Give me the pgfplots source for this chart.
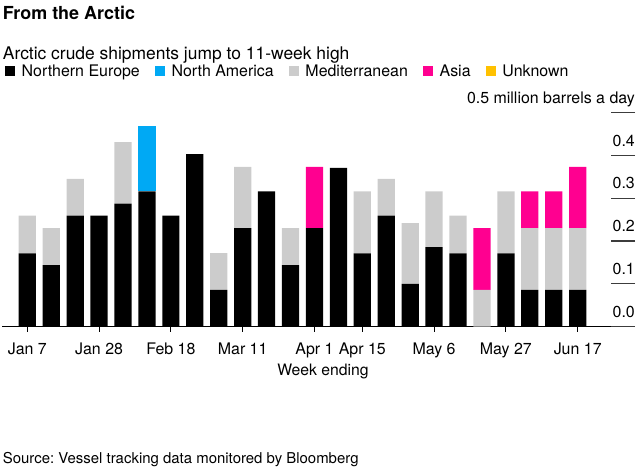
\documentclass[border=0pt]{standalone}
\usepackage{fontspec}
\setmainfont{TeX Gyre Heros}
\usepackage{pgfplots}
\usepackage{pgfplotstable}
\pgfplotsset{compat=1.18}
\definecolor{cblue}{RGB}{0,169,244}
\definecolor{cpink}{RGB}{255,0,144}
\definecolor{cgray}{RGB}{204,204,204}
\definecolor{cyellow}{RGB}{255,193,0}
\definecolor{tickgray}{RGB}{60,60,60}
\pgfplotsset{sq/.style={legend image code/.code={\fill[##1,draw=none] (0bp,-5bp) rectangle (10bp,5bp);}}}
\frenchspacing
\begin{document}
\pgfplotstableread{
x ne na med asia
1 0.171 0 0.088 0
2 0.144 0 0.086 0
3 0.259 0 0.086 0
4 0.259 0 0 0
5 0.287 0 0.144 0
6 0.316 0.153 0 0
7 0.259 0 0 0
8 0.403 0 0 0
9 0.086 0 0.086 0
10 0.230 0 0.143 0
11 0.316 0 0 0
12 0.144 0 0.086 0
13 0.230 0 0 0.143
14 0.371 0 0 0
15 0.171 0 0.145 0
16 0.259 0 0.086 0
17 0.100 0 0.142 0
18 0.186 0 0.130 0
19 0.171 0 0.088 0
20 0 0 0.086 0.144
21 0.171 0 0.145 0
22 0.086 0 0.144 0.086
23 0.086 0 0.144 0.086
24 0.086 0 0.144 0.143
}\data
\begin{tikzpicture}
\useasboundingbox (0,0) rectangle (640bp,469bp);
\begin{axis}[
  at={(2bp,142.3bp)}, anchor=south west,
  scale only axis, width=633bp, height=214.2bp,
  xmin=-0.057, xmax=26.395, ymin=0, ymax=0.5,
  ybar stacked, bar width=0.72,
  axis x line=bottom, axis y line=none,
  x axis line style={-, black, line width=1.5bp},
  tick align=outside, major tick length=5bp,
  xtick={1,4,7,10,13,15,18,21,24},
  xticklabels={Jan 7,Jan 28,Feb 18,Mar 11,Apr 1,Apr 15,May 6,May 27,Jun 17},
  xtick style={black, line width=1bp},
  xticklabel style={font=\fontsize{16}{19}\selectfont, inner sep=0pt, anchor=base, yshift=-23.3bp},
  every axis plot post/.append style={sq},
  legend columns=-1,
  legend style={at={(axis description cs:0.0047,1.1937)}, anchor=west, draw=none, fill=none, inner sep=0pt, outer sep=0pt,
    font=\fontsize{16}{19}\selectfont,
    nodes={inner sep=0pt},
    /tikz/every odd column/.append style={column sep=6.7bp},
    /tikz/every even column/.append style={column sep=15bp}},
]
\addplot[fill=black, draw=none] table[x=x,y=ne]{\data};
\addlegendentry{Northern Europe}
\addplot[fill=cblue, draw=none] table[x=x,y=na]{\data};
\addlegendentry{North America}
\addplot[fill=cgray, draw=none] table[x=x,y=med]{\data};
\addlegendentry{Mediterranean}
\addplot[fill=cpink, draw=none] table[x=x,y=asia]{\data};
\addlegendentry{Asia}
\addlegendimage{fill=cyellow, sq}
\addlegendentry{Unknown}
\end{axis}
\begin{axis}[
  at={(2bp,142.3bp)}, anchor=south west,
  scale only axis, width=633bp, height=214.2bp,
  xmin=-0.057, xmax=26.395, ymin=0, ymax=0.5,
  axis x line=none, axis y line=right,
  y axis line style={draw=none},
  tick align=inside, major tick length=24bp,
  ytick={0,0.1,0.2,0.3,0.4,0.5},
  yticklabels={0.0,0.1,0.2,0.3,0.4,0.5 million barrels a day},
  ytick style={tickgray, line width=1.2bp},
  yticklabel style={font=\fontsize{16}{19}\selectfont, inner sep=0pt, anchor=base east, yshift=9.3bp},
]
\end{axis}
\node[anchor=base west, inner sep=0pt, font=\bfseries\fontsize{18}{22}\selectfont] at (2.7bp,449bp) {From the Arctic};
\node[anchor=base west, inner sep=0pt, font=\fontsize{17.5}{21}\selectfont] at (2.7bp,409.7bp) {Arctic crude shipments jump to 11-week high};
\node[anchor=base, inner sep=0pt, font=\fontsize{15.8}{19}\selectfont] at (323bp,93.3bp) {Week ending};
\node[anchor=base west, inner sep=0pt, font=\fontsize{15}{18}\selectfont] at (2.7bp,5.7bp) {Source: Vessel tracking data monitored by Bloomberg};
\end{tikzpicture}
\end{document}
